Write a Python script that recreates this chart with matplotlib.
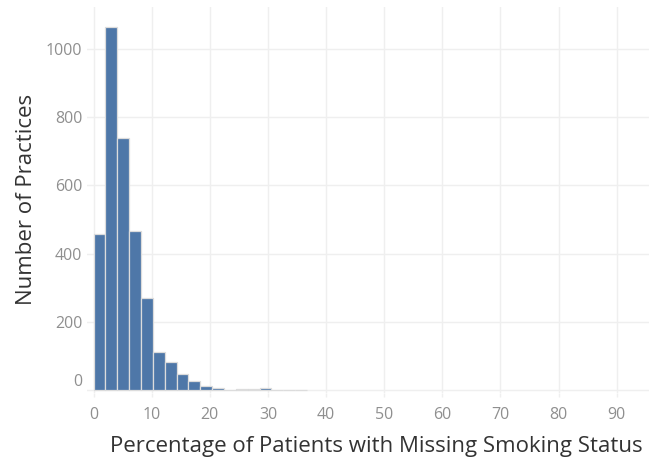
import numpy as np
import matplotlib
matplotlib.use("Agg")
import matplotlib.pyplot as plt
import matplotlib.transforms as mtransforms

# ---- data ----
bin_width = 2.04
counts = [459, 1063, 740, 467, 269, 111, 83, 48, 27, 12, 7, 1, 4, 4, 8, 0, 1, 1]
x_ticks = [0, 10, 20, 30, 40, 50, 60, 70, 80, 90]
y_ticks = [0, 200, 400, 600, 800, 1000]
x_title = "Percentage of Patients with Missing Smoking Status"
y_title = "Number of Practices"

bar_fill = "#4e77a8"
bar_edge = "#dcdcdc"
grid_col = "#efefef"
tick_col = "#8f8f8f"
title_col = "#333333"

plt.rcParams['font.family'] = ['Open Sans', 'DejaVu Sans']

fig = plt.figure(figsize=(6.49, 4.61), dpi=100)
ax = fig.add_axes([87/649, (461-393)/461, 562/649, 386/461])

edges = np.arange(len(counts) + 1) * bin_width
ax.bar(edges[:-1], counts, width=bin_width, align='edge',
       color=bar_fill, edgecolor=bar_edge, linewidth=0.9, zorder=3)

ax.set_xlim(-1.14, 95.55)
ax.set_ylim(-8, 1123)
ax.set_xticks(x_ticks)
ax.set_yticks(y_ticks)
ax.grid(True, color=grid_col, linewidth=1.0, zorder=0)
for s in ax.spines.values():
    s.set_visible(False)

ax.tick_params(axis='x', colors=grid_col, length=3, width=1, pad=7,
               labelsize=11.5, labelcolor=tick_col)
ax.tick_params(axis='y', length=0, pad=3.5, labelsize=11.5, labelcolor=tick_col)

ax.set_xlabel(x_title, fontsize=16, color=title_col)
ax.set_ylabel(y_title, fontsize=16, color=title_col)
ax.xaxis.set_label_coords((376-87)/562, -(436-393)/386)
ax.yaxis.set_label_coords(-(87-37)/562, (393-199)/386)

# the "0" label on the value axis sits slightly above its gridline
lbl0 = ax.get_yticklabels()[0]
lbl0.set_transform(lbl0.get_transform() +
                   mtransforms.ScaledTranslation(0, 10/100, fig.dpi_scale_trans))

fig.savefig("out.png", dpi=100)
